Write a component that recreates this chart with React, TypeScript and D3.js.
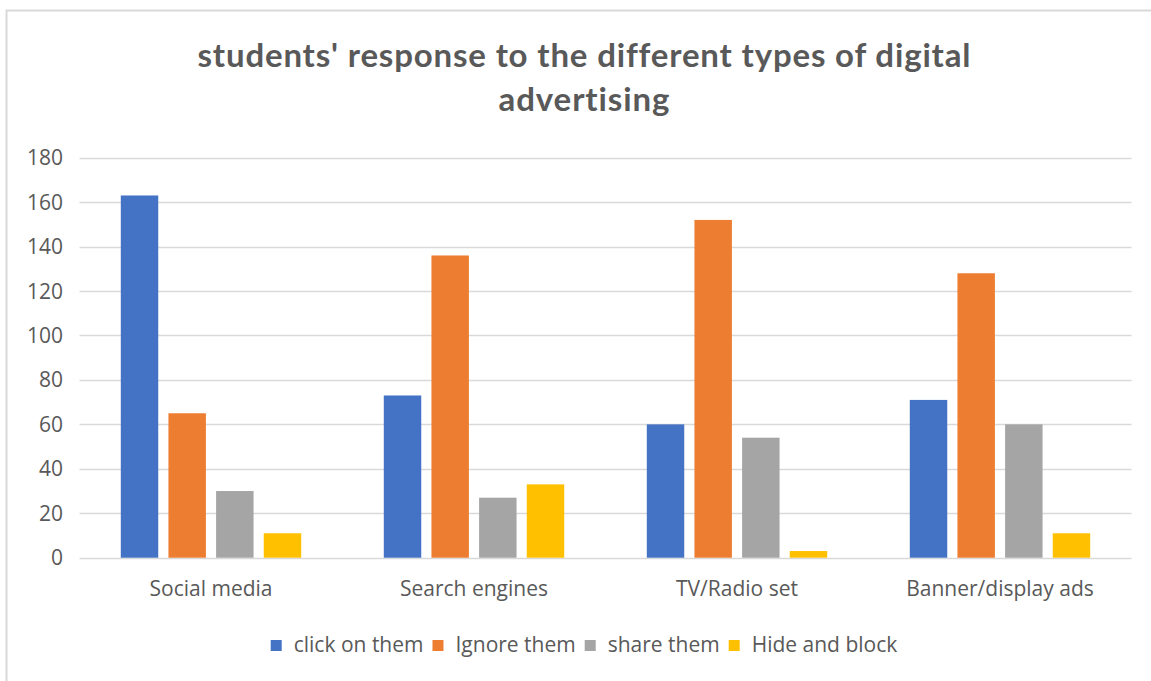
import React, { useEffect, useRef } from "react";
import * as d3 from "d3";

const categories = ["Social media", "Search engines", "TV/Radio set", "Banner/display ads"];
const seriesNames = ["click on them", "Ignore them", "share them", "Hide and block"];
const clickOnThem = [163, 73, 60, 71];
const ignoreThem = [65, 136, 152, 128];
const shareThem = [30, 27, 54, 60];
const hideAndBlock = [11, 33, 3, 11];
const seriesColors = ["#4472C4", "#ED7D31", "#A5A5A5", "#FFC000"];
const yTicks = [0, 20, 40, 60, 80, 100, 120, 140, 160, 180];
const titleLines = ["students' response to the different types of digital", "advertising"];

const W = 1151;
const H = 681;
const TITLE_FONT = "Lato, 'Open Sans', sans-serif";
const FONT = "'Open Sans', Lato, sans-serif";

export default function App() {
  const ref = useRef<SVGSVGElement | null>(null);

  useEffect(() => {
    const svg = d3.select(ref.current);
    svg.selectAll("*").remove();

    const values = [clickOnThem, ignoreThem, shareThem, hideAndBlock];
    const plot = { left: 79.5, right: 1131.5, top: 157.7, bottom: 557.7 };

    // frame
    svg.append("rect").attr("x", 0).attr("y", 0).attr("width", W).attr("height", H).attr("fill", "#fff");
    svg.append("path")
      .attr("d", `M6.5,${H} L6.5,10.5 L${W},10.5`)
      .attr("fill", "none").attr("stroke", "#D9D9D9").attr("stroke-width", 2);

    // title
    const titleWidths = [773, 171];
    svg.append("g").selectAll("text").data(titleLines).join("text")
      .attr("x", 584).attr("y", (_d, i) => 67 + i * 44)
      .attr("text-anchor", "middle")
      .attr("font-family", TITLE_FONT).attr("font-weight", 700).attr("font-size", 33)
      .attr("fill", "#595959")
      .style("font-variant-ligatures", "none")
      .attr("textLength", (_d, i) => titleWidths[i])
      .attr("lengthAdjust", "spacing")
      .text((d) => d);

    const y = d3.scaleLinear().domain([0, 180]).range([plot.bottom, plot.top]);
    const x0 = d3.scaleBand<string>().domain(categories).range([plot.left, plot.right]).padding(0);
    const groupInset = x0.bandwidth() * 0.157;
    const x1 = d3.scaleBand<string>().domain(seriesNames)
      .range([groupInset, x0.bandwidth() - groupInset]).paddingInner(0.214).paddingOuter(0);

    // gridlines
    svg.append("g").selectAll("line").data(yTicks).join("line")
      .attr("x1", plot.left).attr("x2", plot.right)
      .attr("y1", (d) => Math.round(y(d)) + 0.5).attr("y2", (d) => Math.round(y(d)) + 0.5)
      .attr("stroke", "#D9D9D9").attr("stroke-width", 1.3);

    // y tick labels
    svg.append("g").selectAll("text").data(yTicks).join("text")
      .attr("x", 63).attr("y", (d) => y(d)).attr("dy", "0.36em")
      .attr("text-anchor", "end")
      .attr("font-family", FONT).attr("font-size", 21).attr("fill", "#595959")
      .text((d) => String(d));

    // bars
    const g = svg.append("g");
    seriesNames.forEach((s, si) => {
      g.append("g").selectAll("rect").data(values[si]).join("rect")
        .attr("x", (_d, ci) => (x0(categories[ci]) as number) + (x1(s) as number))
        .attr("width", x1.bandwidth())
        .attr("y", (d) => y(d))
        .attr("height", (d) => y(0) - y(d))
        .attr("fill", seriesColors[si]);
    });

    // category labels
    svg.append("g").selectAll("text").data(categories).join("text")
      .attr("x", (d) => (x0(d) as number) + x0.bandwidth() / 2)
      .attr("y", 596)
      .attr("text-anchor", "middle")
      .attr("font-family", FONT).attr("font-size", 21).attr("fill", "#595959")
      .text((d) => d);

    // legend
    const lg = svg.append("g");
    const sq = 11, gapSqText = 12, gapItem = 9;
    const items = seriesNames.map((name, i) => {
      const t = lg.append("text")
        .attr("font-family", FONT).attr("font-size", 21).attr("fill", "#595959")
        .attr("y", 652).text(name);
      const w = (t.node() as SVGTextElement).getComputedTextLength();
      return { t, w, i };
    });
    const total = items.reduce((a, it) => a + sq + gapSqText + it.w, 0) + gapItem * (items.length - 1);
    let cx = 584 - total / 2;
    items.forEach((it) => {
      lg.append("rect").attr("x", cx).attr("y", 640).attr("width", sq).attr("height", sq)
        .attr("fill", seriesColors[it.i]);
      it.t.attr("x", cx + sq + gapSqText);
      cx += sq + gapSqText + it.w + gapItem;
    });
  }, []);

  return (
    <div style={{ position: "absolute", left: 0, top: 0 }}>
      <svg ref={ref} width={W} height={H} style={{ display: "block" }} />
    </div>
  );
}
